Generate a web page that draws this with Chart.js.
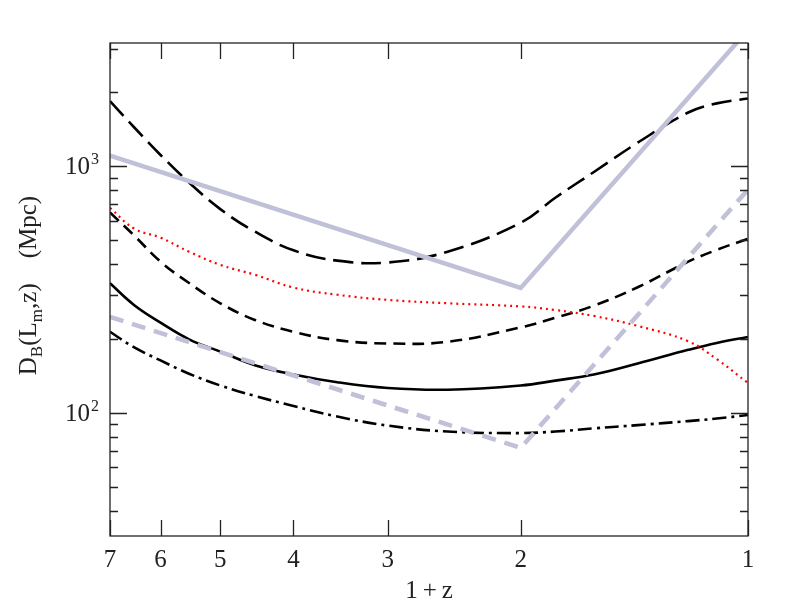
<!DOCTYPE html>
<html>
<head>
<meta charset="utf-8">
<script src="https://cdn.jsdelivr.net/npm/chart.js@4.4.1/dist/chart.umd.min.js"></script>
<style>
  html, body { margin: 0; padding: 0; background: #fff; }
  #wrap { width: 789px; height: 602px; }
</style>
</head>
<body>
<div id="wrap"><canvas id="chart" width="789" height="602"></canvas></div>
<script>
/* ================= DATA ================= */
const zAxis = [7, 6.5, 6, 5.5, 5, 4.5, 4, 3.5, 3, 2.5, 2, 1.8, 1.6, 1.4, 1.2, 1.1, 1];
const longDash  = [1837, 1436, 1111, 859, 670, 543, 456, 414, 407, 450, 590, 745, 948, 1246, 1652, 1799, 1883];
const redDotted = [678, 558, 513, 450, 398, 363, 322, 301, 287, 278, 270, 261, 247, 225, 195, 165, 132];
const shortDash = [649, 523, 410, 336, 278, 238, 213, 197, 191, 194, 222, 243, 272, 323, 410, 458, 508];
const solid     = [335, 273, 232, 198.6, 177, 156, 143, 133, 126, 124, 129, 135, 143, 158.5, 180, 192, 203];
const dashDot   = [213, 184, 163, 144, 129, 117, 106.5, 96.5, 88.7, 83.9, 82.7, 83.9, 86.4, 89.1, 92.5, 94.7, 97.9];

const greyZ = [7, 2, 1];
const greySolid  = [1104, 321, 3570];
const greyDashed = [245, 72, 804];

const xTicks = [7, 6, 5, 4, 3, 2, 1];
const yMajor = [100, 1000];
const yMinor = [40, 50, 60, 70, 80, 90, 200, 300, 400, 500, 600, 700, 800, 900, 2000, 3000];

const FONT = '"Liberation Serif", "DejaVu Serif", serif';
const GREY = "rgb(192,192,216)";

const pts = (xs, ys) => xs.map((v, i) => ({ x: v, y: ys[i] }));

/* ================= RICH TEXT ================= */
// segments: [text, mode] with mode "" | "sub" | "sup"
function richText(ctx, segs, cx, base, size) {
  const small = Math.round(size * 0.68);
  let w = 0;
  segs.forEach(([t, m]) => {
    ctx.font = `${m ? small : size}px ${FONT}`;
    w += ctx.measureText(t).width;
  });
  let x = cx - w / 2;
  segs.forEach(([t, m]) => {
    ctx.font = `${m ? small : size}px ${FONT}`;
    const dy = m === "sub" ? size * 0.25 : m === "sup" ? -size * 0.38 : 0;
    ctx.fillText(t, x, base + dy);
    x += ctx.measureText(t).width;
  });
  return w;
}

/* ================= FRAME PLUGIN ================= */
const framePlugin = {
  id: "frame",
  afterDraw(chart) {
    const { ctx, chartArea: a, scales: { x, y } } = chart;
    ctx.save();
    ctx.strokeStyle = "#222";
    ctx.fillStyle = "#222";
    ctx.lineWidth = 1.3;
    ctx.strokeRect(a.left, a.top, a.right - a.left, a.bottom - a.top);

    ctx.beginPath();
    // x ticks top and bottom
    xTicks.forEach(v => {
      const px = Math.round(x.getPixelForValue(v)) + 0.5;
      ctx.moveTo(px, a.bottom); ctx.lineTo(px, a.bottom - 16);
      ctx.moveTo(px, a.top); ctx.lineTo(px, a.top + 16);
    });
    // y ticks left and right
    const yTick = (v, len) => {
      const py = Math.round(y.getPixelForValue(v)) + 0.5;
      ctx.moveTo(a.left, py); ctx.lineTo(a.left + len, py);
      ctx.moveTo(a.right, py); ctx.lineTo(a.right - len, py);
    };
    yMajor.forEach(v => yTick(v, 17));
    yMinor.forEach(v => yTick(v, 8));
    ctx.stroke();

    // x labels
    ctx.textAlign = "center";
    ctx.textBaseline = "alphabetic";
    ctx.font = `25px ${FONT}`;
    xTicks.forEach(v => ctx.fillText(String(v), x.getPixelForValue(v), 567));

    // y labels 10^2, 10^3
    ctx.textAlign = "left";
    yMajor.forEach(v => {
      const py = y.getPixelForValue(v);
      const exp = String(Math.round(Math.log10(v)));
      ctx.font = `25px ${FONT}`;
      const w1 = ctx.measureText("10").width;
      ctx.font = `16px ${FONT}`;
      const w2 = ctx.measureText(exp).width;
      const x0 = a.left - 12 - w1 - w2;
      ctx.font = `25px ${FONT}`;
      ctx.fillText("10", x0, py + 8);
      ctx.font = `16px ${FONT}`;
      ctx.fillText(exp, x0 + w1 + 1, py - 2);
    });

    // x title
    ctx.textAlign = "left";
    richText(ctx, [["1\u2009+\u2009z", ""]], (a.left + a.right) / 2, 598, 25);

    // y title
    ctx.translate(36, (a.top + a.bottom) / 2 - 4);
    ctx.rotate(-Math.PI / 2);
    richText(ctx, [["D", ""], ["B", "sub"], ["(L", ""], ["m", "sub"], [",z)\u2002\u2002(Mpc)", ""]], 0, 0, 25);
    ctx.restore();
  }
};

/* ================= CHART ================= */
const curve = (data, opts) => Object.assign({
  data: pts(zAxis, data),
  borderColor: "#000",
  borderWidth: 2.6,
  pointRadius: 0,
  fill: false,
  tension: 0.4,
  clip: 0
}, opts);

new Chart(document.getElementById("chart"), {
  type: "line",
  data: {
    datasets: [
      { data: pts(greyZ, greySolid), borderColor: GREY, borderWidth: 4.5, pointRadius: 0, tension: 0, clip: 0 },
      { data: pts(greyZ, greyDashed), borderColor: GREY, borderWidth: 4.5, borderDash: [14, 9], pointRadius: 0, tension: 0, clip: 0 },
      curve(redDotted, { borderColor: "#ff0000", borderWidth: 2.2, borderDash: [2, 4] }),
      curve(longDash, { borderDash: [20, 8] }),
      curve(shortDash, { borderDash: [12, 7] }),
      curve(solid, {}),
      curve(dashDot, { borderDash: [14, 5, 3, 5] })
    ]
  },
  options: {
    responsive: false,
    animation: false,
    layout: { padding: { left: 110, right: 41, top: 43, bottom: 66 } },
    plugins: { legend: { display: false }, tooltip: { enabled: false } },
    scales: {
      x: { type: "logarithmic", reverse: true, min: 1, max: 7, display: false },
      y: { type: "logarithmic", min: Math.pow(10, 1.5), max: Math.pow(10, 3.5), display: false }
    }
  },
  plugins: [framePlugin]
});
</script>
</body>
</html>
